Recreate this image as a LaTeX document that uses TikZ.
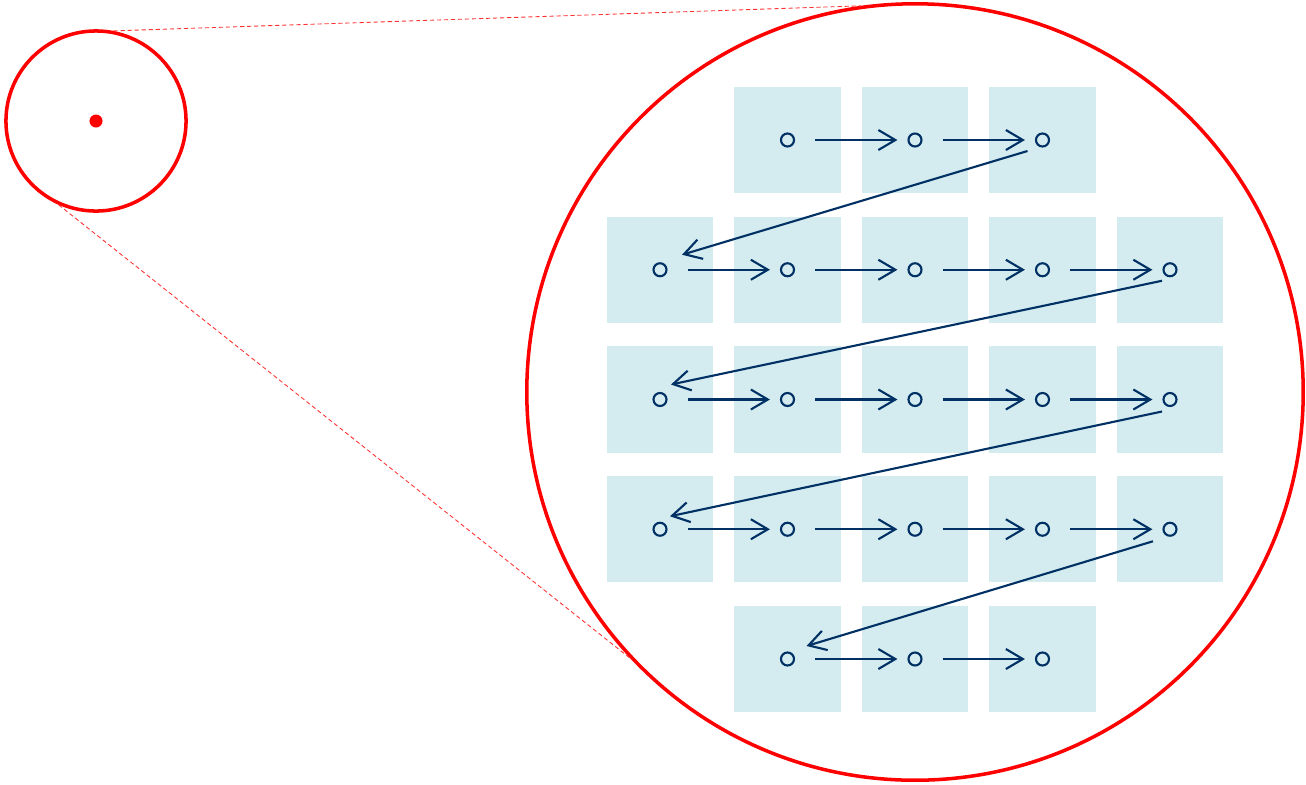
\documentclass[tikz,border=0pt]{standalone}
\usepackage{tikz}
\usepackage{xcolor}
\usetikzlibrary{arrows.meta}
\definecolor{cellblue}{RGB}{212,236,240}
\definecolor{pathblue}{RGB}{0,48,100}

\begin{document}
\begin{tikzpicture}[x=0.01cm, y=-0.01cm,
		lens/.style={draw=red, line width=1pt, circle, inner sep=0pt},
		cell/.style={fill=cellblue, minimum size=1.06cm, inner sep=0pt},
		site/.style={draw=pathblue, line width=0.6pt, circle, minimum size=0.13cm, inner sep=0pt},
		hop/.style={draw=pathblue, line width=0.6pt, -{Straight Barb[length=0.17cm, width=0.2cm]}},
		guide/.style={draw=red!80, line width=0.25pt, dash pattern=on 1.2pt off 0.8pt}]
				\useasboundingbox (0,0) rectangle (1306,784);
				\node[lens, minimum size=1.8cm] (spot) at (96,121) {};
				\node[fill=red, circle, minimum size=0.13cm, inner sep=0pt] (centre) at (96,121) {};
				\node[lens, minimum size=7.76cm] (zoom) at (915,392) {};
				\draw[guide] (spot.79) -- (zoom.98);
				\draw[guide] (spot.246) -- (zoom.223);
				% cells and sites
				\foreach \r/\first/\last in {1/2/4, 2/1/5, 3/1/5, 4/1/5, 5/2/4}
				{
					\pgfmathsetmacro{\yy}{140+129.75*(\r-1)}
					\foreach \c in {\first,...,\last}
					{
						\pgfmathsetmacro{\xx}{660+127.5*(\c-1)}
						\node[cell] (cell-\r-\c) at (\xx,\yy) {};
						\node[site] (dot-\r-\c) at (\xx,\yy) {};
					}
				}
				% hops along each row
				\foreach \r/\first/\last in {1/2/4, 2/1/5, 3/1/5, 4/1/5, 5/2/4}
				{
					\pgfmathtruncatemacro{\stop}{\last-1}
					\foreach \c [evaluate=\c as \n using int(\c+1)] in {\first,...,\stop}
					{
						\draw[hop, shorten <=0.2cm, shorten >=0.1cm] (dot-\r-\c) -- (dot-\r-\n);
					}
				}
				% hops back to the next row
				\foreach \a/\ax/\ay/\b/\bx/\by in {
					1-4/-15/11/2-1/22/-15,
					2-5/-8/11/3-1/11/-15,
					3-5/-8/12/4-1/10/-13,
					4-5/-17/12/5-2/19/-13
				}
				{
					\draw[hop] ([shift={(\ax,\ay)}]dot-\a.center) -- ([shift={(\bx,\by)}]dot-\b.center);
				}
\end{tikzpicture}
\end{document}
